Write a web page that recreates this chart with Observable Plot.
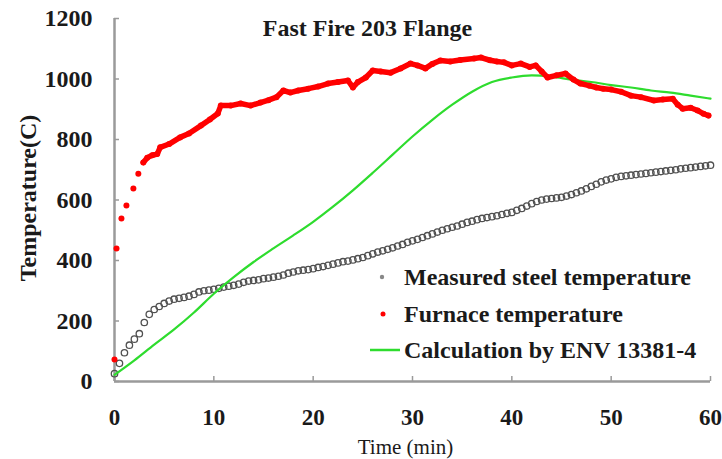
<!DOCTYPE html>
<html><head><meta charset="utf-8">
<script src="https://cdn.jsdelivr.net/npm/d3@7"></script>
<script src="https://cdn.jsdelivr.net/npm/@observablehq/plot@0.6"></script>
<style>
body{margin:0;background:#fff;}
#wrap{position:relative;width:722px;height:459px;font-family:"Liberation Serif","DejaVu Serif",serif;color:#1a1a1a;}
#wrap svg text{font-family:"Liberation Serif","DejaVu Serif",serif;}
#legend{position:absolute;left:0;top:0;width:722px;height:459px;pointer-events:none;}
.row{position:absolute;left:366px;height:30px;display:flex;align-items:center;font-size:24px;font-weight:bold;white-space:nowrap;font-family:"Liberation Serif","DejaVu Serif",serif;}
.sw{width:36px;height:30px;position:relative;}
</style></head><body><div id="wrap"></div>
<script>
const title = "Fast Fire 203 Flange";
const xLabel = "Time (min)";
const yLabel = "Temperature(C)";
const xTicks = [0, 10, 20, 30, 40, 50, 60];
const yTicks = [0, 200, 400, 600, 800, 1000, 1200];
const seriesNames = ["Measured steel temperature", "Furnace temperature", "Calculation by ENV 13381-4"];
const seriesColors = ["#505050", "#ff0000", "#2edc2e"];

const furnaceTime = [0,0.2,0.7,1.2,1.9,2.4,2.9,3.3,3.8,4.3,4.6,5.5,6.6,7.5,8.7,9.6,10.4,10.7,11.7,12.7,13.7,14.7,15.5,16.3,17,17.7,18.5,19.5,20.5,21.5,22.5,23.5,24,24.5,25.3,26,26.8,27.8,28.8,29.8,30.5,31.3,32,32.8,33.8,34.8,36.2,36.9,37.8,38.5,39.2,40,40.9,41.8,42.4,43,43.6,44.5,45.4,46.2,46.9,47.8,48.5,49.2,50,51,52,53,54.3,55.2,56.2,56.7,57.2,58,58.7,59.3,59.8];
const furnaceTemp = [73,440,539,582,638,687,724,740,748,752,774,785,807,820,846,866,886,912,912,919,912,922,930,940,962,955,962,968,975,985,990,995,972,990,1005,1028,1025,1021,1035,1051,1045,1035,1050,1061,1058,1063,1068,1071,1062,1058,1055,1045,1051,1040,1045,1025,1005,1012,1018,998,985,978,972,968,965,958,945,940,929,932,935,915,902,905,896,885,879];

const steelTime = [0,0.5,1,1.5,2,2.5,3,3.5,4,4.5,5,5.5,6,6.5,7,7.5,8,8.5,9,9.5,10,10.5,11,11.5,12,12.5,13,13.5,14,14.5,15,15.5,16,16.5,17,17.5,18,18.5,19,19.5,20,20.5,21,21.5,22,22.5,23,23.5,24,24.5,25,25.5,26,26.5,27,27.5,28,28.5,29,29.5,30,30.5,31,31.5,32,32.5,33,33.5,34,34.5,35,35.5,36,36.5,37,37.5,38,38.5,39,39.5,40,40.5,41,41.5,42,42.5,43,43.5,44,44.5,45,45.5,46,46.5,47,47.5,48,48.5,49,49.5,50,50.5,51,51.5,52,52.5,53,53.5,54,54.5,55,55.5,56,56.5,57,57.5,58,58.5,59,59.5,60];
const steelTemp = [26,60,95,120,140,158,195,222,238,248,258,266,272,275,278,282,288,296,300,302,305,308,312,315,318,322,328,332,334,336,340,342,345,348,352,358,362,366,368,370,373,377,380,384,388,392,396,398,402,406,410,416,422,428,432,437,442,448,453,460,465,470,476,482,488,494,500,505,510,514,520,526,530,535,539,542,545,548,552,556,559,566,572,580,588,595,600,603,605,607,609,613,618,624,630,637,645,652,660,666,670,675,678,680,682,684,686,688,690,692,694,696,698,700,703,705,707,709,711,713,715];

const calcTime = [0,2,4,6,8,10,12,14,16,18,20,22,24,26,28,30,32,34,36,38,40,42,44,46,48,50,52,54,56,58,60];
const calcTemp = [22,70,122,172,228,290,345,395,440,483,528,578,632,690,750,810,865,915,958,990,1005,1012,1008,998,990,980,972,962,955,945,935];

const furnace = furnaceTime.map((t, i) => ({t, v: furnaceTemp[i]}));
const steel = steelTime.map((t, i) => ({t, v: steelTemp[i]}));
const calc = calcTime.map((t, i) => ({t, v: calcTemp[i]}));

const axisGray = "#9a9a9a";
const font = "'Liberation Serif', 'DejaVu Serif', serif";

const chart = Plot.plot({
  width: 722, height: 459,
  marginLeft: 114, marginRight: 12, marginTop: 18, marginBottom: 78,
  x: {domain: [0, 60]},
  y: {domain: [0, 1200]},
  style: {fontFamily: font, fontWeight: "bold", fontSize: "24px", color: "#1a1a1a", background: "white", overflow: "visible"},
  marks: [
    Plot.ruleX([0], {stroke: axisGray, strokeWidth: 2.5}),
    Plot.ruleY([0], {stroke: axisGray, strokeWidth: 2.5}),
    Plot.axisY(yTicks, {tickSize: -5, tickFormat: () => "", label: null, stroke: axisGray, strokeWidth: 1.5}),
    Plot.axisY(yTicks, {tickSize: 0, tickPadding: 22, label: null, fontSize: 24, tickFormat: d3.format("d")}),
    Plot.axisX(xTicks, {tickSize: -5, tickFormat: () => "", label: null, stroke: axisGray, strokeWidth: 1.5}),
    Plot.axisX(xTicks, {tickSize: 0, tickPadding: 27, label: null, fontSize: 23, tickFormat: d3.format("d")}),
    Plot.text([yLabel], {frameAnchor: "left", textAnchor: "middle", lineAnchor: "middle", rotate: -90, dx: -86, dy: -2, fontSize: 24, fontWeight: "bold"}),
    Plot.text([xLabel], {frameAnchor: "bottom", textAnchor: "middle", lineAnchor: "middle", dx: -7, dy: 66, fontSize: 21, fontWeight: "normal"}),
    Plot.text([title], {frameAnchor: "top", textAnchor: "middle", lineAnchor: "middle", dx: -45, dy: 10, fontSize: 24, fontWeight: "bold"}),
    Plot.dot(steel, {x: "t", y: "v", r: 3.2, stroke: seriesColors[0], strokeWidth: 1.3, fill: "none"}),
    Plot.line(calc, {x: "t", y: "v", stroke: seriesColors[2], strokeWidth: 2.2, curve: "monotone-x"}),
    Plot.line(furnace.filter(d => d.t >= 2.9), {x: "t", y: "v", stroke: seriesColors[1], strokeWidth: 5.5}),
    Plot.dot(furnace, {x: "t", y: "v", r: 3, fill: seriesColors[1]})
  ]
});

const wrap = document.getElementById("wrap");
wrap.appendChild(chart);

const legend = document.createElement("div");
legend.id = "legend";
const rowTops = [262, 299, 335];
const swatches = [
  `<svg class="sw" width="36" height="30"><circle cx="16" cy="15" r="2.2" fill="#888"/></svg>`,
  `<svg class="sw" width="36" height="30"><circle cx="17" cy="15" r="2.5" fill="#ff0000"/></svg>`,
  `<svg class="sw" width="36" height="30"><line x1="4" x2="34" y1="15" y2="15" stroke="${seriesColors[2]}" stroke-width="2.5"/></svg>`
];
seriesNames.forEach((name, i) => {
  const row = document.createElement("div");
  row.className = "row";
  row.style.top = rowTops[i] + "px";
  row.innerHTML = swatches[i] + `<span style="margin-left:2px">${name}</span>`;
  legend.appendChild(row);
});
wrap.appendChild(legend);
</script></body></html>
